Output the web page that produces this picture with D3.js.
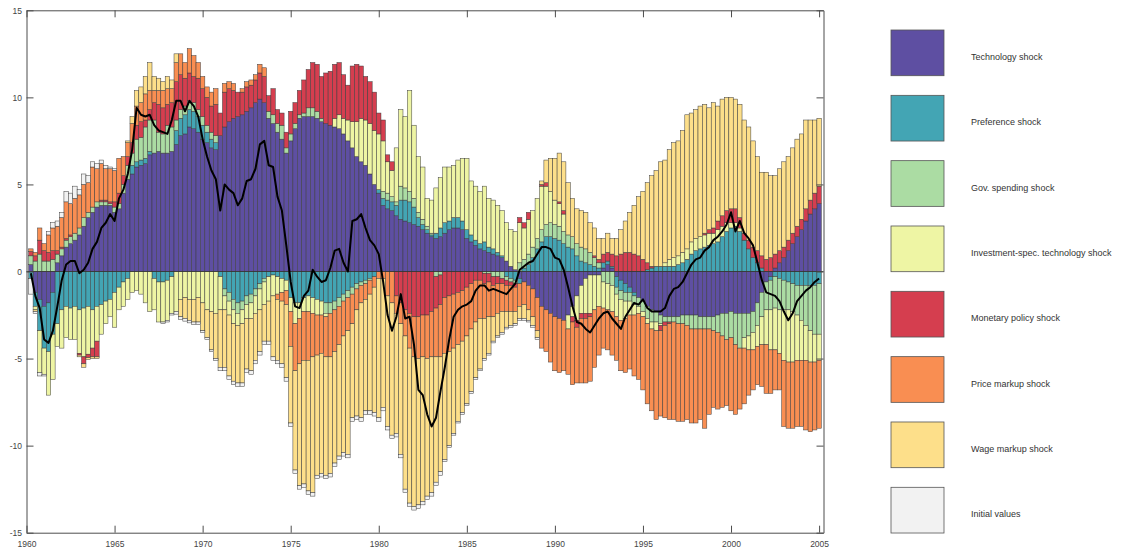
<!DOCTYPE html>
<html>
<head>
<meta charset="utf-8">
<script src="https://cdn.jsdelivr.net/npm/d3@7"></script>
<style>
  html, body { margin: 0; padding: 0; background: #ffffff; }
  svg { display: block; font-family: "Liberation Sans", Arial, Helvetica, sans-serif; }
</style>
</head>
<body>
<svg id="chart" width="1123" height="552"></svg>
<script>
// Historical decomposition: quarterly contribution of each shock (stacked bars) and the observed series (black line)
const shockNames = [
  "Technology shock", "Preference shock", "Gov. spending shock",
  "Investment-spec. technology shock", "Monetary policy shock",
  "Price markup shock", "Wage markup shock", "Initial values"
];
const shockColors = ["#5e4fa2", "#43a5b4", "#abdca3", "#eef5a4", "#d53e4f", "#f98e52", "#fddf8a", "#f2f2f2"];

const technology = [
  0.4,-1.2,-1.6,-2.0,-1.8,-1.2,0.5,0.9,1.4,1.6,
  1.8,2.1,2.6,3.1,3.4,3.7,3.8,3.8,3.8,3.4,
  3.6,4.5,5.3,5.6,6.0,6.1,6.2,6.7,6.8,6.9,
  6.8,6.8,6.9,7.3,7.8,7.9,8.3,8.2,8.0,7.6,
  7.4,7.1,7.0,7.8,8.3,8.6,8.8,8.9,9.0,9.2,
  9.4,9.7,9.9,9.7,8.8,8.5,8.0,7.6,6.8,7.5,
  8.2,8.8,8.9,8.9,8.9,8.8,8.6,8.5,8.4,8.3,
  8.2,7.9,7.5,7.1,6.6,6.3,6.1,5.6,5.0,4.5,
  3.8,3.6,3.5,3.2,3.0,2.9,2.8,2.7,2.6,2.4,
  2.2,2.0,1.9,2.0,2.2,2.4,2.5,2.5,2.4,1.9,
  1.7,1.5,1.3,1.2,1.1,1.0,0.9,0.8,0.6,0.3,
  0.1,-0.4,-0.6,-0.8,-1.0,-1.5,-2.0,-2.2,-2.4,-2.6,
  -2.7,-2.8,-2.5,-2.0,-1.4,-0.8,-0.4,-0.2,-0.2,-0.2,
  0.2,0.4,0.2,-0.3,-0.5,-0.7,-0.9,-1.2,-1.5,-1.7,
  -2.0,-2.2,-2.3,-2.5,-2.6,-2.6,-2.6,-2.6,-2.5,-2.5,
  -2.5,-2.5,-2.6,-2.6,-2.6,-2.6,-2.5,-2.4,-2.4,-2.3,
  -2.4,-2.4,-2.4,-2.4,-2.3,-1.8,-1.2,-0.6,-0.3,0.2,
  0.5,0.8,1.2,1.6,2.0,2.4,2.9,3.3,3.6,3.9
];
const preference = [
  -0.4,-0.8,-1.8,-2.4,-2.8,-2.4,-3.0,-2.2,-2.0,-2.1,
  -2.0,-2.2,-2.1,-2.0,-2.2,-2.0,-1.9,-1.7,-1.6,-1.2,
  -0.9,-0.6,-0.4,0.5,0.3,0.3,0.3,0.2,-0.4,-0.6,
  -0.6,-0.5,-0.3,0.8,1.0,1.1,1.0,1.0,0.9,0.8,
  0.6,0.5,0.4,-0.3,-1.0,-1.2,-1.6,-1.8,-1.7,-1.4,
  -1.3,-1.0,-0.7,-0.4,-0.3,-0.2,-0.3,-0.4,-0.5,-1.5,
  -1.8,-1.8,-1.5,-1.4,-1.5,-1.6,-1.7,-1.8,-1.8,-1.7,
  -1.5,-1.3,-1.1,-0.9,-0.7,-0.6,-0.5,-0.4,-0.3,0.2,
  0.4,0.5,0.5,0.6,1.1,1.2,1.2,1.0,0.5,0.3,
  0.2,0.1,0.3,0.5,0.6,0.5,0.6,0.6,0.5,0.5,
  0.4,0.3,0.3,0.5,0.3,0.3,0.2,0.1,-0.3,-0.4,
  -0.5,-0.3,0.2,0.4,0.8,1.3,1.7,2.0,2.0,1.9,
  1.8,1.6,1.4,1.3,0.9,0.6,0.5,0.4,0.3,0.2,
  0.3,0.2,0.1,-0.6,-0.6,-0.5,-0.3,-0.2,0,0,
  0.1,0.2,0.3,0.3,0.3,0.3,0.3,0.4,0.5,0.7,
  1.0,1.2,1.3,1.4,1.5,1.6,1.7,2.0,2.3,2.5,
  2.6,2.3,1.8,1.3,0.8,0.5,0.2,0,-0.2,-0.3,
  -0.4,-0.5,-0.6,-0.7,-0.8,-0.8,-0.8,-0.8,-0.8,-0.7
];
const govSpending = [
  0.5,0.6,1.0,0.6,0.6,0.7,0.5,0.4,0.4,0.4,
  0.4,0.4,0.5,0.3,0.3,0.3,0.2,0.2,0.1,0.3,
  0.3,0.5,0.8,0.7,1.3,1.3,1.8,1.8,1.9,1.1,
  1.1,1.6,1.4,0.6,0.5,0.5,0.5,0.5,0.4,0.5,
  0.4,0.4,0.4,0,-0.4,-0.5,-0.6,-0.6,-0.5,-0.5,
  -0.5,-0.4,-0.3,-0.2,0.4,0.5,0.5,0.8,0.3,0.4,
  0.3,0.2,0.2,0.5,0.5,0.4,0.2,-0.6,-0.6,-0.5,
  -0.5,-0.4,-0.4,-0.4,-0.3,-0.2,-0.2,-0.1,0,0,
  0.4,0.4,0.3,0.2,0.8,0.7,0.6,0.5,0.3,0.3,
  0.2,0.1,-0.3,-0.2,0,0,0,0,0,0,
  0,0,0,-0.1,-0.1,-0.3,-0.3,-0.4,-0.2,-0.2,
  -0.2,0.5,0.5,0.6,0.6,0.6,0.7,0.7,0.8,0.8,
  0.8,0.7,0.7,0.7,0.7,0.8,0.8,0.7,0.5,0.3,
  -0.6,-0.7,-0.8,-0.4,-0.5,-0.5,-0.5,-0.5,-0.5,-0.6,
  -0.7,-0.7,-0.6,-0.5,-0.3,-0.3,-0.3,-0.4,-0.5,-0.6,
  -0.8,-0.8,-0.7,-0.7,-0.7,-0.8,-1.0,-1.3,-1.5,-1.5,
  -1.8,-2.0,-1.4,-1.3,-1.2,-1.3,-1.4,-1.6,-1.7,-1.8,
  -1.8,-1.7,-1.6,-1.6,-1.7,-2.0,-2.3,-2.6,-2.8,-2.9
];
const investmentTech = [
  0,-0.2,-2.4,-1.5,-2.5,-2.6,-1.3,-2.2,-1.8,-1.8,
  -1.9,-2.5,-2.8,-2.75,-2.2,-2.0,-1.7,-1.3,-1.0,-2.0,
  -1.3,-1.4,-1.2,-1.2,-1.1,-1.3,-1.8,-2.3,-1.8,-2.3,
  -2.3,-2.3,-2.1,-2.3,-1.6,-1.5,-1.6,-1.6,-1.5,-1.8,
  -2.2,-2.3,-2.4,-1.9,-0.8,-0.8,-0.8,-0.7,-0.8,-0.8,
  -0.9,-1.0,-1.2,-1.3,-1.4,-1.2,-1.0,-0.8,-0.6,-0.8,
  -1.2,-0.9,-0.8,-0.9,-0.9,-0.9,-0.8,-0.2,0,0.5,
  0.8,0.9,1.2,1.5,2.0,2.5,2.6,2.9,3.1,3.2,
  2.9,1.8,1.5,3.1,4.4,4.1,5.8,4.2,3.2,3.0,
  1.6,1.9,2.6,2.9,3.2,3.1,3.0,3.3,3.6,4.1,
  3.1,3.1,3.0,3.2,2.8,2.8,2.7,2.6,2.2,2.1,
  2.2,2.3,1.8,2.0,2.1,2.3,2.5,2.2,1.8,1.4,
  1.3,1.0,-0.8,-0.6,-1.4,-1.6,-2.0,-2.2,-2.0,-1.8,
  -1.5,-1.5,-1.5,-1.3,-1.2,-1.0,-0.8,-0.6,-0.4,-0.3,
  -0.3,-0.4,-0.5,-0.1,0.2,0.4,0.5,0.5,0.6,0.6,
  0.7,0.7,0.7,0.7,0.7,0.6,0.7,0.6,0.5,0.3,
  0.2,0.2,-0.6,-0.8,-1.0,-1.2,-1.6,-2.0,-2.3,-2.4,
  -2.5,-2.9,-3.0,-2.9,-2.6,-2.3,-2.0,-1.8,-1.6,-1.5
];
const monetaryPolicy = [
  0.25,0.3,0.8,0.6,0.5,0.5,0.2,0.1,0.1,0.1,
  0,-0.1,-0.4,-0.2,-0.5,-0.9,0.1,0.1,0.1,0.3,
  0.6,0.5,0.5,0.6,0.8,0.9,0.4,0.6,1.0,1.6,
  1.5,1.2,1.4,2.2,2.0,1.6,1.6,1.5,1.8,1.6,
  1.6,1.5,1.8,1.3,2.0,1.9,1.6,1.4,1.3,1.4,
  1.3,1.3,1.5,1.5,0.9,1.5,0.8,0.7,0.9,1.3,
  1.2,1.4,1.9,2.2,2.6,2.7,2.4,2.9,3.1,3.1,
  3.0,2.5,2.0,3.2,3.3,3.0,2.5,2.4,2.2,1.2,
  1.2,0.4,0.5,-1.4,-1.8,-2.2,-2.4,-2.6,-2.6,-2.5,
  -2.5,-2.3,-1.8,-1.7,-1.5,-1.4,-1.3,-1.2,-1.1,-0.9,
  -0.7,-0.5,-0.5,-0.6,-0.5,-0.5,-0.4,-0.3,-0.3,-0.2,
  -0.2,0.3,0.3,0.4,0,0,0.1,0.2,0,0,
  0.1,0.2,0,-0.3,-0.4,-0.3,-0.3,-0.2,0.1,0.2,
  0.5,0.5,0.7,0.9,1.0,1.1,1.1,1.0,0.9,0.7,
  0.4,0.1,0,-0.3,-0.2,-0.1,0,0,0,0,
  0,0,0,0.1,0.2,0.3,0.5,0.6,0.7,0.8,
  0.8,0.6,0.4,0.5,0.6,0.7,0.7,0.7,0.8,0.8,
  0.7,0.6,0.6,0.6,0.6,0.6,0.7,0.8,0.9,1.0
];
const priceMarkup = [
  0.15,0.2,0.7,0.4,1.0,1.3,1.4,1.7,2.1,1.8,
  2.0,1.9,1.9,1.7,2.3,1.9,2.1,1.8,1.9,1.8,
  2.0,1.1,0.8,1.1,1.1,1.1,1.5,1.1,0.7,0.8,
  1.0,0.9,0.8,1.1,1.2,0.9,1.4,1.2,0.9,0.7,
  0.6,0.8,0.9,0,0.5,0.4,0.4,0,0.2,0.3,
  0.3,0.3,0.5,0.5,0,0,-0.3,-0.5,-0.8,-2.0,
  -2.7,-2.6,-2.8,-2.8,-2.5,-2.3,-2.2,-2.3,-2.5,-2.4,
  -2.2,-2.0,-1.9,-1.7,-1.2,-1.0,-0.9,-0.8,-0.6,-0.4,
  -0.4,-1.4,-1.8,-1.0,-1.2,-1.5,-2.0,-2.3,-2.4,-2.4,
  -2.5,-2.6,-2.8,-3.0,-3.2,-3.2,-3.1,-3.0,-2.9,-2.8,
  -2.6,-2.4,-2.2,-2.0,-2.0,-1.8,-1.7,-1.6,-1.5,-1.5,
  -1.4,-1.3,-1.3,-1.4,-1.6,-1.9,-2.4,-2.4,-2.8,-3.1,
  -3.1,-2.9,-2.6,-3.6,-3.2,-3.7,-3.7,-3.7,-3.3,-2.8,
  -2.3,-2.3,-2.5,-2.5,-2.9,-3.1,-3.1,-3.5,-3.8,-4.2,
  -4.6,-4.7,-5.1,-4.9,-5.3,-5.5,-5.6,-5.6,-5.6,-5.4,
  -5.4,-5.4,-5.2,-5.7,-4.9,-4.4,-4.4,-4.1,-3.8,-4.2,
  -4.0,-3.5,-3.2,-2.6,-2.3,-2.2,-2.4,-2.8,-2.5,-2.3,
  -2.1,-3.8,-3.8,-3.8,-3.8,-3.8,-4.0,-4.0,-3.9,-3.9
];
const wageMarkup = [
  0,-0.1,0,0,0,0,0,0,0,0,
  0,-0.1,-0.2,-0.1,-0.1,-0.1,0,0,0,0,
  0,0,0.1,0.4,0.9,0.9,1.0,1.6,0.8,0.7,
  0.5,0.7,0.5,0.5,-1.0,-1.2,-1.2,-1.3,-1.4,-1.6,
  -1.6,-2.2,-2.6,-3.3,-3.3,-3.5,-3.3,-3.3,-3.4,-2.9,
  -3.0,-2.7,-2.4,-2.1,-2.3,-3.5,-3.5,-3.6,-4.2,-4.4,
  -5.7,-7.0,-7.1,-7.5,-7.8,-6.9,-6.9,-6.8,-6.7,-6.4,
  -6.4,-6.7,-7.1,-5.4,-6.1,-6.6,-6.4,-6.7,-7.2,-8.0,
  -7.4,-7.5,-7.6,-6.9,-7.5,-8.8,-8.9,-8.6,-8.4,-8.3,
  -7.9,-7.8,-7.2,-6.6,-6.1,-5.4,-4.9,-4.4,-4.1,-3.9,
  -3.6,-3.2,-2.9,-2.3,-2.1,-1.4,-1.3,-1.2,-0.9,-0.8,
  -0.7,-0.7,-0.8,-0.6,-0.5,-0.4,0.2,1.3,1.9,2.4,
  2.8,2.8,3.0,2.2,2.0,2.1,2.1,1.7,1.6,1.2,
  0.9,1.1,0.9,1.0,1.4,1.8,2.3,2.8,3.4,3.9,
  4.6,5.2,5.5,6.0,5.9,6.3,6.6,6.6,7.0,7.7,
  7.4,7.4,7.5,7.4,7.0,7.2,6.6,6.7,6.5,6.4,
  6.3,6.5,6.5,6.5,6.1,5.4,4.8,5.0,4.7,4.5,
  4.7,4.9,4.8,4.9,5.0,4.9,5.1,4.6,4.2,3.9
];
const initialValues = [
  -0.9,-0.1,-0.2,-0.1,0.2,0.3,0.3,0.3,0.6,0.6,
  0.7,0.3,0.6,0.4,0.3,0.3,0.2,0.2,0.1,0.1,
  0,0,0,0,0,0,0,0,0,0,
  -0.1,-0.1,-0.1,-0.15,-0.15,-0.15,-0.15,-0.15,-0.15,-0.1,
  -0.1,-0.1,-0.1,-0.2,-0.2,-0.2,-0.2,-0.2,-0.2,-0.2,
  -0.2,-0.2,-0.2,-0.2,-0.2,-0.2,-0.2,-0.2,-0.2,-0.2,
  -0.2,-0.2,-0.2,-0.2,-0.2,-0.2,-0.2,-0.2,-0.2,-0.2,
  -0.2,-0.2,-0.2,-0.2,-0.2,-0.2,-0.2,-0.2,-0.2,-0.2,
  -0.2,-0.2,-0.2,-0.2,-0.2,-0.2,-0.2,-0.2,-0.2,-0.2,
  -0.2,-0.2,-0.2,-0.2,-0.1,-0.1,-0.1,-0.1,-0.1,-0.1,
  -0.1,-0.1,-0.1,-0.1,-0.1,-0.1,-0.1,-0.1,-0.1,-0.1,
  -0.1,-0.1,-0.1,-0.1,-0.1,-0.1,0,0,0,0,
  0,0,0,0,0,0,0,0,0,0,
  0,0,0,0,0,0,0,0,0,0,
  0,0,0,0,0,0,0,0,0,0,
  0,0,0,0,0,0,0,0,0,0,
  0,0,0,0,0,0,0,0,0,0,
  0,0,0,0,0,0,0,0,0,0
];
// Observed series
const observed = [
  -0.1,-1.4,-2.1,-3.9,-4.1,-3.4,-2.0,-0.5,0.4,0.6,
  0.6,-0.1,0.1,0.5,1.3,1.7,2.5,2.8,3.3,2.9,
  4.2,4.7,5.6,7.0,9.4,9.0,8.9,9.0,8.4,8.1,
  8.0,7.9,8.7,9.8,9.8,9.2,9.8,9.5,8.9,7.6,
  6.6,5.8,5.3,3.5,5.0,4.7,4.5,3.8,4.2,5.2,
  5.3,5.9,7.3,7.5,6.1,6.0,4.3,3.5,1.5,-0.6,
  -2.0,-2.1,-1.4,-1.1,0.1,-0.3,-0.6,-0.5,0.2,1.2,
  1.3,0.5,0.0,2.9,3.0,3.3,2.5,1.8,1.5,1.0,
  -0.6,-2.5,-3.4,-2.6,-1.3,-2.7,-2.6,-4.2,-6.8,-7.1,
  -8.2,-8.9,-8.4,-6.9,-5.5,-3.9,-2.6,-2.2,-2.0,-1.9,
  -1.7,-1.1,-0.8,-0.8,-1.1,-1.0,-1.1,-1.2,-1.3,-1.0,
  -0.7,0.1,0.3,0.5,0.6,1.0,1.4,1.4,1.3,0.8,
  0.7,0.1,-0.9,-2.0,-2.9,-3.0,-3.3,-3.5,-3.1,-2.7,
  -2.4,-2.3,-2.7,-3.0,-3.3,-2.6,-2.2,-1.8,-1.9,-1.6,
  -2.1,-2.3,-2.3,-2.3,-2.1,-1.4,-1.0,-0.9,-0.6,-0.1,
  0.4,0.7,0.8,1.2,1.4,1.8,2.0,2.3,2.7,3.4,
  2.3,2.9,2.2,1.9,1.5,0.5,-0.5,-1.2,-1.3,-1.4,
  -1.7,-2.3,-2.8,-2.4,-1.7,-1.4,-1.1,-0.9,-0.6,-0.4
];
const yearTicks = [1960, 1965, 1970, 1975, 1980, 1985, 1990, 1995, 2000, 2005];
const valueTicks = [-15, -10, -5, 0, 5, 10, 15];

// Quarterly dates, one bar per quarter
const quarters = d3.range(technology.length).map(i => 1960.25 + 0.25 * i);

const keys = ["technology", "preference", "govSpending", "investmentTech",
              "monetaryPolicy", "priceMarkup", "wageMarkup", "initialValues"];
const columns = [technology, preference, govSpending, investmentTech,
                 monetaryPolicy, priceMarkup, wageMarkup, initialValues];
const rows = quarters.map((q, i) => {
  const r = { date: q };
  keys.forEach((k, j) => { r[k] = columns[j][i]; });
  return r;
});

const svg = d3.select("#chart");
const plotLeft = 26.5, plotRight = 823.5, plotTop = 10.3, plotBottom = 532.7;
const x = d3.scaleLinear().domain([1960, 2005.25]).range([plotLeft, plotRight]);
const y = d3.scaleLinear().domain([-15, 15]).range([plotBottom, plotTop]);
const barW = x(1960.25) - x(1960);

// Positive contributions stack upward, negative ones downward
const layers = d3.stack().keys(keys).offset(d3.stackOffsetDiverging)(rows);

svg.append("g")
  .selectAll("g")
  .data(layers)
  .join("g")
  .attr("fill", (d, i) => shockColors[i])
  .selectAll("rect")
  .data(d => d.filter(p => p[1] !== p[0]))
  .join("rect")
  .attr("x", d => x(d.data.date) - barW / 2)
  .attr("width", barW)
  .attr("y", d => y(Math.max(d[0], d[1])))
  .attr("height", d => Math.abs(y(d[0]) - y(d[1])))
  .attr("stroke", "#3c3c3c")
  .attr("stroke-width", 0.5);

// Zero reference line
svg.append("line")
  .attr("x1", plotLeft).attr("x2", plotRight)
  .attr("y1", y(0)).attr("y2", y(0))
  .attr("stroke", "#333").attr("stroke-width", 0.8);

// Observed series
svg.append("path")
  .datum(quarters.map((q, i) => ({ date: q, v: observed[i] })))
  .attr("fill", "none")
  .attr("stroke", "#000")
  .attr("stroke-width", 2)
  .attr("stroke-linejoin", "round")
  .attr("d", d3.line().x(d => x(d.date)).y(d => y(d.v)));

// Axes (ticks pointing inward, box around the plot)
const axisColor = "#4d4d4d";
const plainNumber = d => String(d);
function styleAxis(g) {
  g.selectAll("path").attr("stroke", axisColor).attr("stroke-width", 1);
  g.selectAll("line").attr("stroke", axisColor).attr("stroke-width", 1);
  g.selectAll("text").attr("fill", "#444").attr("font-size", "8.5px")
    .attr("font-family", "\"Liberation Sans\", Arial, sans-serif");
}
svg.append("g").attr("transform", `translate(0,${plotBottom})`)
  .call(d3.axisBottom(x).tickValues(yearTicks).tickFormat(plainNumber)
    .tickSizeInner(-7).tickSizeOuter(0).tickPadding(8))
  .call(styleAxis);
svg.append("g").attr("transform", `translate(0,${plotTop})`)
  .call(d3.axisTop(x).tickValues(yearTicks).tickFormat("")
    .tickSizeInner(-7).tickSizeOuter(0))
  .call(styleAxis);
svg.append("g").attr("transform", `translate(${plotLeft},0)`)
  .call(d3.axisLeft(y).tickValues(valueTicks).tickFormat(plainNumber)
    .tickSizeInner(-7).tickSizeOuter(0).tickPadding(4.5))
  .call(styleAxis);
svg.append("g").attr("transform", `translate(${plotRight},0)`)
  .call(d3.axisRight(y).tickValues(valueTicks).tickFormat("")
    .tickSizeInner(-7).tickSizeOuter(0))
  .call(styleAxis);

// Legend
const legend = svg.append("g").attr("transform", "translate(891,30)");
const item = legend.selectAll("g").data(shockNames).join("g")
  .attr("transform", (d, i) => `translate(0,${i * 65.33})`);
item.append("rect")
  .attr("width", 53).attr("height", 45.7)
  .attr("fill", (d, i) => shockColors[i])
  .attr("stroke", "#555").attr("stroke-width", 0.8);
item.append("text")
  .attr("x", 80).attr("y", 30)
  .attr("font-size", "9px").attr("fill", "#333")
  .text(d => d);
</script>
</body>
</html>
